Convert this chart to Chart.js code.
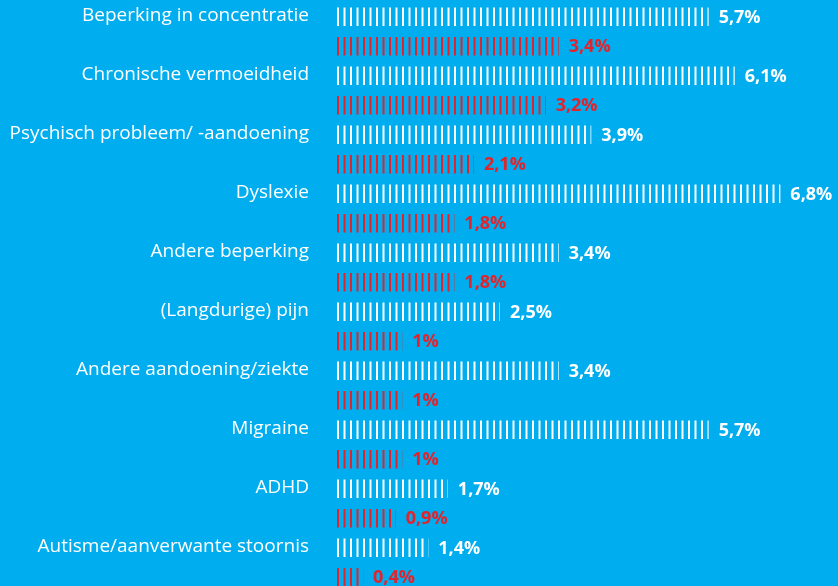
<!DOCTYPE html>
<html>
<head>
<meta charset="utf-8">
<script src="https://cdn.jsdelivr.net/npm/chart.js@4"></script>
<style>
  html, body { margin: 0; padding: 0; background: #00adee; overflow: hidden; }
  #wrap { width: 838px; height: 592px; position: relative; }
</style>
</head>
<body>
<div id="wrap"><canvas id="chart"></canvas></div>
<script>
const categories = [
  "Beperking in concentratie",
  "Chronische vermoeidheid",
  "Psychisch probleem/ -aandoening",
  "Dyslexie",
  "Andere beperking",
  "(Langdurige) pijn",
  "Andere aandoening/ziekte",
  "Migraine",
  "ADHD",
  "Autisme/aanverwante stoornis",
];
const whiteValues = [5.7, 6.1, 3.9, 6.8, 3.4, 2.5, 3.4, 5.7, 1.7, 1.4];
const redValues = [3.4, 3.2, 2.1, 1.8, 1.8, 1, 1, 1, 0.9, 0.4];

const WHITE = "#ffffff";
const RED = "#e3232b";

// striped fill, like the printed bars
function stripes(color) {
  const c = document.createElement("canvas");
  c.width = 13;
  c.height = 20;
  const g = c.getContext("2d");
  g.fillStyle = color;
  g.fillRect(0, 0, 2, 20);
  g.fillRect(6.5, 0, 2, 20);
  const p = g.createPattern(c, "repeat");
  p.setTransform(new DOMMatrix().translate(337, 0));
  return p;
}

const fmt = (v) => String(v).replace(".", ",") + "%";

const valueLabels = {
  id: "valueLabels",
  afterDatasetsDraw(chart) {
    const ctx = chart.ctx;
    ctx.save();
    ctx.font = "bold 18px 'Open Sans', sans-serif";
    ctx.textBaseline = "middle";
    ctx.textAlign = "left";
    chart.data.datasets.forEach((ds, i) => {
      ctx.fillStyle = ds.labelColor;
      chart.getDatasetMeta(i).data.forEach((bar, j) => {
        ctx.fillText(fmt(ds.data[j]), bar.x + 10, bar.y + 1);
      });
    });
    ctx.restore();
  }
};

new Chart(document.getElementById("chart").getContext("2d"), {
  type: "bar",
  data: {
    labels: categories,
    datasets: [
      {
        data: whiteValues,
        backgroundColor: stripes(WHITE),
        labelColor: WHITE,
        barPercentage: 0.62,
        categoryPercentage: 1,
      },
      {
        data: redValues,
        backgroundColor: stripes(RED),
        labelColor: RED,
        barPercentage: 0.62,
        categoryPercentage: 1,
      },
    ],
  },
  options: {
    indexAxis: "y",
    responsive: true,
    maintainAspectRatio: false,
    animation: false,
    layout: { autoPadding: false, padding: { top: 2, right: 12, bottom: 0, left: 0 } },
    plugins: {
      legend: { display: false },
      tooltip: { enabled: false },
    },
    scales: {
      x: {
        display: false,
        min: 0,
        max: 7.5,
      },
      y: {
        border: { display: false },
        grid: { display: false, drawTicks: false },
        ticks: {
          color: WHITE,
          padding: 28,
          labelOffset: -16,
          font: { family: "'Open Sans', sans-serif", size: 19 },
        },
        afterFit: (scale) => {
          scale.width = 337;
          scale.paddingTop = 0;
          scale.paddingBottom = 0;
        },
      },
    },
  },
  plugins: [valueLabels],
});
</script>
</body>
</html>
